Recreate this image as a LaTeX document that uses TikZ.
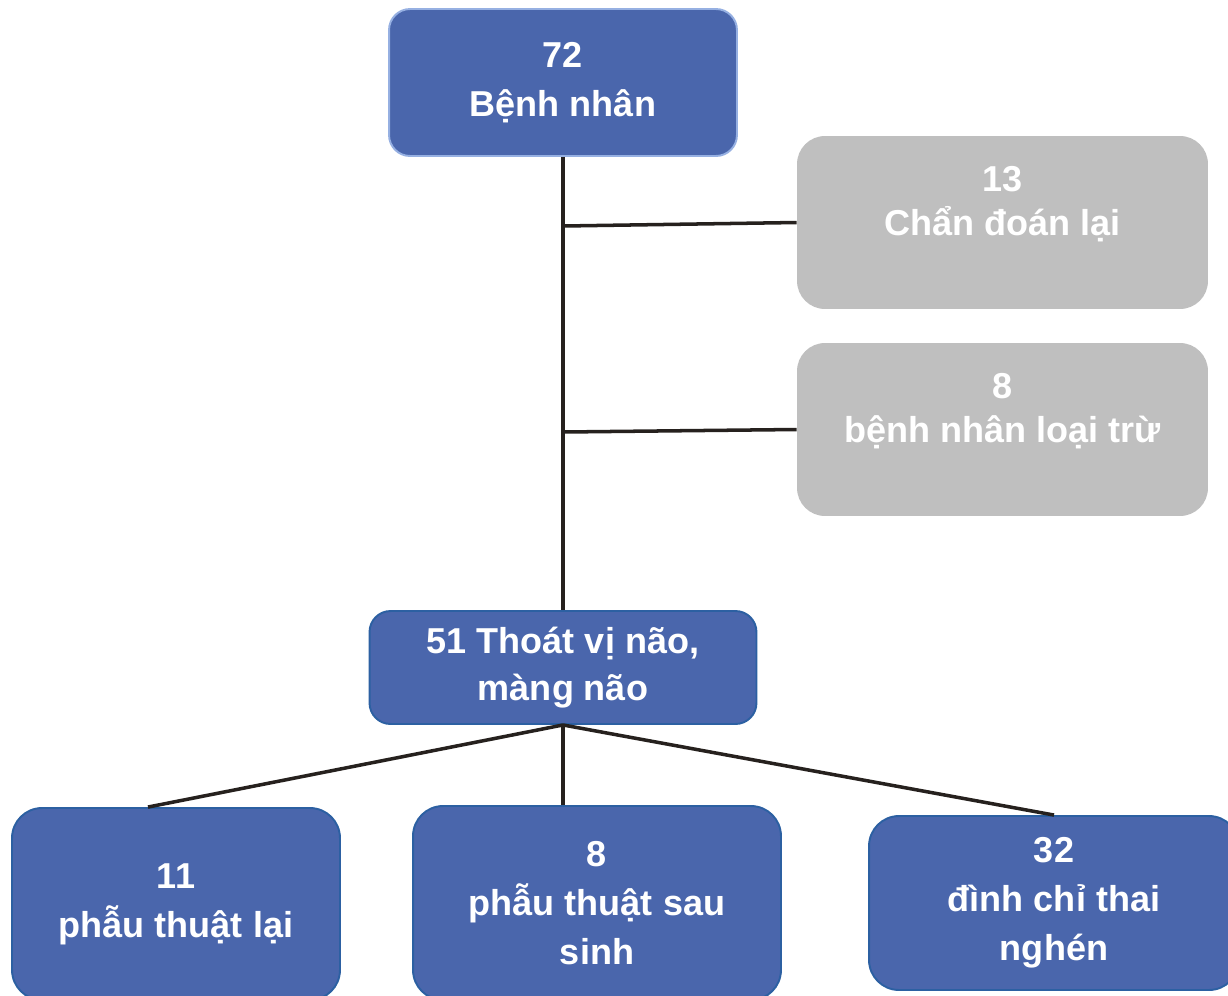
\documentclass[tikz,border=0pt]{standalone}
\usepackage{fontspec}
\setmainfont{Liberation Sans}
\usepackage{tikz}

\definecolor{boxblue}{RGB}{74,102,172}
\definecolor{edgeblue}{RGB}{44,96,162}
\definecolor{lightedge}{RGB}{150,176,226}
\definecolor{boxgray}{RGB}{191,191,191}
\definecolor{linkdark}{RGB}{38,33,30}

\begin{document}
\begin{tikzpicture}[x=0.02cm, y=-0.02cm,
	bluebox/.style={draw=edgeblue, line width=1.1pt, fill=boxblue, text=white, align=center,
		font=\fontsize{20.5}{28}\selectfont\bfseries, rounded corners=0.6cm, inner sep=0pt},
	graybox/.style={fill=boxgray, text=white, align=center,
		font=\fontsize{20.5}{25}\selectfont\bfseries, rounded corners=0.56cm, inner sep=0pt},
	link/.style={draw=linkdark, line width=2pt}]
	\clip (0,0) rectangle (1228,995);
	\fill[white] (0,0) rectangle (1228,995);
	\node [bluebox, draw=lightedge, rounded corners=0.42cm, minimum width=6.96cm, minimum height=2.94cm] (patients) at (563,82.5) {72\\Bệnh nhân};
	\node [graybox, minimum width=8.22cm, minimum height=3.46cm] (rediag) at (1002.5,222.5) {13\\Chẩn đoán lại\\\mbox{}};
	\node [graybox, minimum width=8.22cm, minimum height=3.46cm] (excluded) at (1002.5,429.5) {8\\bệnh nhân loại trừ\\\mbox{}};
	\node [bluebox, rounded corners=0.42cm, font=\fontsize{20.5}{27}\selectfont\bfseries, minimum width=7.74cm, minimum height=2.26cm] (hernia) at (563,667.5) {51 Thoát vị não,\\màng não};
	\node [bluebox, minimum width=6.56cm, minimum height=3.84cm] (reop) at (176,904) {11\\phẫu thuật lại};
	\node [bluebox, minimum width=7.36cm, minimum height=3.88cm] (postnatal) at (597,903) {8\\phẫu thuật sau\\sinh};
	\node [bluebox, minimum width=7.4cm, minimum height=3.48cm] (termination) at (1054,903) {32\\đình chỉ thai\\nghén};
	\coordinate (J1) at (563,226);
	\coordinate (J2) at (563,432);
	\draw [link] (patients.south) -- (hernia.north);
	\draw [link] (J1) -- (rediag.west);
	\draw [link] (J2) -- (excluded.west);
	\draw [link] (hernia.south) -- ([xshift=-0.56cm]reop.north);
	\draw [link] (hernia.south) -- (hernia.south |- postnatal.north);
	\draw [link] (hernia.south) -- (termination.north);
\end{tikzpicture}
\end{document}
